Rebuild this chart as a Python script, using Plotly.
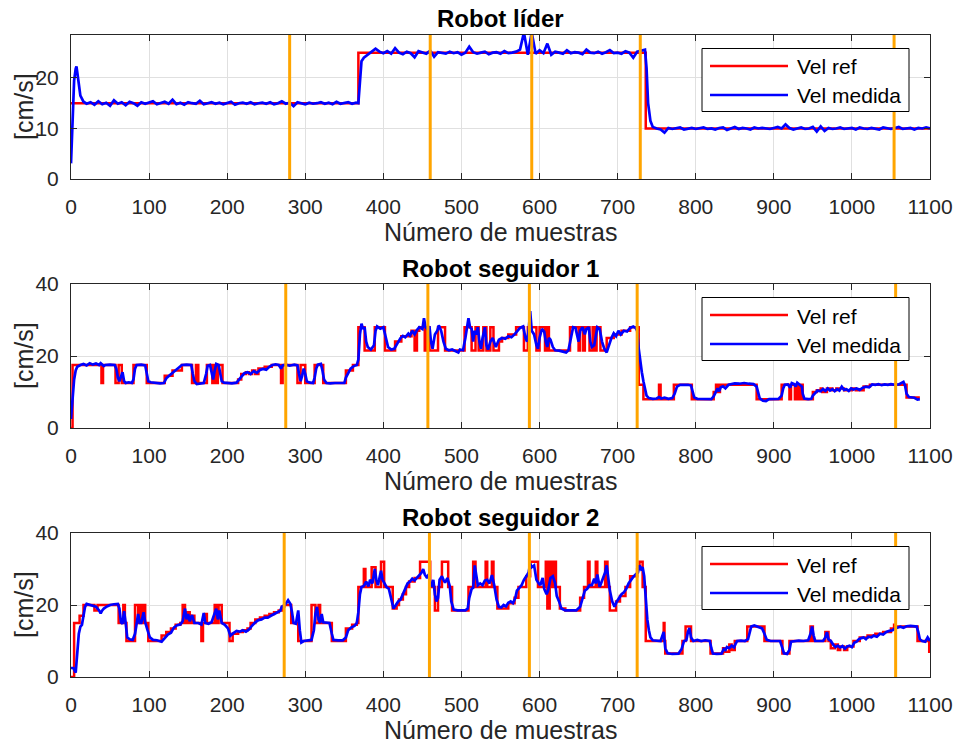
import plotly.graph_objects as go

# ---------------- data ----------------
x_ticks = [0, 100, 200, 300, 400, 500, 600, 700, 800, 900, 1000, 1100]
titles = ["Robot líder", "Robot seguidor 1", "Robot seguidor 2"]
x_label = "Número de muestras"
y_label = "[cm/s]"
legend_names = ["Vel ref", "Vel medida"]
y_ticks = [[0, 10, 20], [0, 20, 40], [0, 20, 40]]
y_max = [28.5, 40, 40]

# orange event markers (sample index)
events1 = [280, 460, 590, 729, 1054]
events2 = [275, 457, 587, 725, 1056]
events3 = [273, 459, 587, 725, 1056]

# ---- Robot líder ----
ref1 = [(0, 15), (368, 25), (736, 10), (1100, 10)]

meas1_x = ([0, 2, 4, 6, 7, 9, 12, 16] + list(range(20, 366, 5)) + [368, 370, 372, 375]
           + list(range(380, 736, 5)) + [737, 739, 742] + list(range(745, 1101, 5)))
meas1_y = ([3.1, 12, 19.5, 21.8, 22.3, 20, 16.5, 15.3]
           + [14.9, 15.2, 14.7, 15.4, 14.8, 15.1, 14.5, 15.6, 14.9, 15.2,
              14.6, 15.3, 15.0, 14.5, 15.2, 14.9, 15.1, 15.4, 14.8, 15.0,
              15.3, 14.9, 15.7, 14.8, 15.1, 14.7, 15.2, 15.0, 14.9, 15.5,
              14.8, 15.0, 15.2, 14.9, 15.1, 14.8, 15.0, 15.3, 14.7, 15.0,
              15.1, 14.9, 15.2, 14.8, 15.0, 15.1, 14.9, 15.2, 14.8, 15.0,
              15.4, 14.9, 15.1, 14.4, 15.2, 15.0, 14.8, 15.1, 14.9, 15.0,
              15.2, 14.9, 15.1, 14.8, 15.3, 14.9, 15.0, 15.2, 14.9, 15.1]
           + [15.0, 20, 23.3, 24.0]
           + [24.6, 25.1, 25.8, 25.2, 24.9, 25.3, 24.8, 25.9, 25.0, 24.7,
              25.2, 24.9, 24.1, 25.3, 25.0, 24.8, 25.4, 24.2, 25.1, 25.0,
              24.8, 25.2, 24.9, 25.1, 24.6, 25.0, 26.2, 25.1, 24.8, 25.0,
              25.2, 24.7, 25.0, 25.1, 24.8, 25.3, 24.9, 25.0, 25.2, 25.6,
              29.0, 24.6, 29.0, 24.8, 25.5, 24.9, 26.8, 24.6, 25.2, 25.0,
              24.8, 25.5, 24.9, 25.1, 25.0, 24.7, 25.6, 25.0, 24.9, 25.2,
              24.8, 25.1, 25.5, 24.9, 25.0, 24.8, 25.3, 25.0, 24.0, 25.2,
              25.4, 25.6]
           + [22, 15, 11.5]
           + [10.3, 10.0, 9.8, 9.2, 10.1, 9.9, 10.0, 10.2, 9.8, 10.0,
              10.1, 9.9, 10.0, 10.2, 9.9, 10.0, 9.8, 10.1, 10.2, 9.7,
              10.0, 10.3, 9.9, 10.1, 10.0, 9.8, 10.2, 10.0, 10.1, 10.0,
              9.9, 10.1, 10.3, 10.0, 10.8, 10.1, 9.8, 10.0, 10.2, 9.9,
              10.0, 10.3, 9.4, 10.4, 9.5, 10.1, 9.9, 10.0, 10.2, 9.9,
              10.0, 10.1, 9.8, 10.2, 10.0, 9.9, 10.1, 10.0, 9.8, 10.2,
              10.0, 9.9, 10.1, 10.3, 9.9, 10.0, 10.1, 9.8, 10.1, 10.0,
              10.2, 10.0])

# ---- Robot seguidor 1 ----
ref2 = [(0, 0), (2, 17.5), (39, 12.5), (41, 17.5), (57, 12.5), (61, 17.5), (65, 12.5), (80, 17.5),
        (97, 12.5), (120, 14.5), (130, 16), (142, 17.5), (155, 12.5), (160, 17.5), (163, 12.5),
        (174, 17.5), (181, 12.5), (184, 17.5), (187, 12.5), (188, 17.5), (194, 12.5), (214, 13.5),
        (218, 15), (224, 15.5), (228, 15), (232, 16), (236, 15), (240, 16.5), (248, 17), (257, 17.5),
        (269, 12.5), (271, 17.5), (290, 12.5), (294, 17.5), (300, 12.5), (312, 17.5), (323, 12.5),
        (352, 16), (361, 17.5), (368, 28), (376, 21.5), (389, 28), (402, 21.5), (415, 24), (423, 25.5),
        (436, 27), (440, 21.5), (443, 27), (446, 28), (453, 21.5), (456, 28), (459, 21.5), (470, 28),
        (479, 21.5), (504, 28), (513, 21.5), (518, 28), (522, 21.5), (528, 28), (532, 21.5), (537, 28),
        (541, 21.5), (548, 24), (552, 25), (560, 26), (570, 28), (580, 21.5), (585, 28), (596, 21.5),
        (600, 28), (607, 21.5), (609, 28), (612, 21.5), (639, 28), (650, 21.5), (652, 28), (656, 21.5),
        (658, 28), (664, 21.5), (668, 28), (670, 21.5), (673, 28), (678, 21.5), (686, 25), (695, 26),
        (705, 27), (716, 28), (727, 12), (733, 8), (753, 12), (755, 8), (772, 12), (795, 8), (823, 10),
        (826, 12), (828, 10), (831, 12), (878, 8), (910, 12), (920, 8), (922, 12), (927, 8), (929, 12),
        (932, 8), (934, 12), (937, 8), (950, 10), (955, 10.5), (960, 11), (962, 10), (968, 11),
        (975, 10.5), (980, 11), (990, 10.5), (1000, 11), (1005, 10.5), (1015, 11.5), (1023, 12),
        (1070, 8.5), (1087, 8.5)]

meas2 = [(0, 2.5), (2, 8), (4, 13.5), (6, 16), (8, 17), (12, 17.5), (16, 17.8), (20, 17.4), (24, 18),
         (28, 17.6), (32, 17.9), (36, 17.5), (38, 18), (42, 17.2), (44, 17.5), (50, 17.6), (56, 17.5),
         (58, 16.5), (60, 14), (62, 13), (64, 14.5), (66, 15.5), (68, 13), (70, 12.5), (74, 12.7),
         (78, 12.5), (80, 13.5), (82, 16.5), (84, 17.5), (90, 17.6), (95, 17.4), (97, 15), (99, 13),
         (102, 12.7), (108, 12.5), (114, 12.4), (119, 12.5), (122, 13.8), (126, 14.6), (130, 15.3),
         (134, 16), (138, 16.8), (142, 17.5), (148, 17.6), (154, 17.5), (156, 15), (158, 13),
         (161, 12.2), (166, 12.3), (170, 12.5), (173, 15), (175, 17.3), (178, 17.5), (180, 15),
         (182, 13.5), (184, 16), (186, 17.8), (189, 17.5), (191, 15), (193, 13), (196, 12.6),
         (200, 12.5), (206, 12.4), (212, 12.6), (215, 13.5), (218, 14.2), (222, 15.2), (226, 15.5),
         (230, 15), (234, 15.8), (238, 15.3), (242, 16.1), (246, 16.4), (250, 16.2), (254, 17),
         (258, 17.5), (262, 17.7), (266, 17.5), (269, 16.5), (271, 17.4), (275, 17.6), (280, 17.3),
         (286, 17.6), (290, 17.4), (292, 15), (294, 13), (296, 14.5), (298, 16.5), (300, 15),
         (302, 13), (306, 12.6), (310, 12.5), (312, 14), (314, 16.5), (316, 17.6), (320, 17.8),
         (322, 16), (324, 13.5), (327, 12.5), (332, 12.4), (338, 12.5), (344, 12.6), (350, 12.5),
         (352, 14), (355, 15.5), (358, 16.5), (362, 17.2), (366, 17.5), (368, 19), (370, 26),
         (372, 29), (374, 27.5), (376, 28), (378, 24), (380, 22.5), (384, 21.8), (388, 23), (390, 27),
         (392, 28.2), (396, 27.6), (400, 28), (403, 25), (406, 22.5), (410, 21.8), (414, 22),
         (418, 23.5), (422, 25), (425, 25.6), (428, 25.2), (432, 26.2), (434, 25.7), (437, 27),
         (440, 26), (443, 27.2), (446, 28), (450, 27.5), (452, 30.5), (454, 28), (456, 27.5),
         (459, 28.2), (461, 24), (463, 22), (466, 26), (469, 27), (471, 28.5), (474, 27), (477, 24),
         (480, 22), (484, 21.6), (488, 21.8), (492, 21.5), (496, 21), (498, 21.8), (502, 21.6),
         (505, 25), (507, 28), (509, 30.5), (511, 28), (513, 27.5), (515, 24), (517, 27), (519, 26),
         (521, 28), (523, 24), (525, 22), (527, 25), (530, 28), (532, 23), (534, 21.8), (537, 24),
         (540, 25), (544, 22.5), (548, 24.5), (552, 25), (556, 24.8), (560, 25.5), (564, 25.2),
         (568, 26), (572, 27), (575, 27.8), (579, 28.2), (582, 25), (584, 24), (586, 27), (588, 32.5),
         (590, 27), (593, 26), (596, 23), (598, 22), (600, 25), (603, 27.5), (606, 26.8), (608, 24),
         (610, 22.5), (612, 25), (614, 24.5), (617, 22.5), (620, 21.6), (625, 21.5), (630, 21.3),
         (634, 21), (637, 21.6), (640, 25), (643, 28), (646, 27.8), (648, 26), (650, 24), (652, 27),
         (655, 28), (658, 26), (660, 27.5), (663, 28), (665, 24), (667, 22.5), (670, 23), (672, 25.5),
         (674, 28), (677, 27.5), (680, 24), (683, 22), (686, 21), (689, 23), (692, 25), (695, 26.3),
         (698, 25.5), (701, 27), (704, 26), (708, 27), (712, 26.8), (716, 27.8), (720, 28.2),
         (723, 27.8), (725, 27), (727, 22), (729, 18), (731, 15.5), (733, 13), (735, 11), (737, 9),
         (740, 8.3), (745, 8.1), (750, 8.2), (753, 8.6), (756, 8.2), (760, 8.4), (765, 8.1), (770, 8.3),
         (773, 9.5), (776, 11.5), (780, 12), (785, 12.1), (790, 12), (794, 11.8), (796, 10), (798, 8.5),
         (802, 8.1), (808, 8), (814, 8.1), (820, 8), (823, 8.8), (826, 10.3), (828, 11), (830, 10.2),
         (832, 11.3), (835, 11.6), (838, 11), (842, 12), (846, 12.2), (850, 12.4), (856, 12.3),
         (862, 12.5), (868, 12.3), (874, 12.2), (878, 11.5), (880, 9.5), (882, 8.2), (886, 7.6),
         (890, 7.5), (894, 8), (900, 8), (906, 8.1), (910, 9), (912, 11), (914, 12), (918, 12.1),
         (921, 11.2), (923, 12.5), (926, 12.2), (928, 11.5), (930, 12.6), (933, 12), (936, 11.5),
         (937, 9.5), (939, 8.2), (944, 8), (948, 8.1), (950, 9), (953, 9.8), (956, 10.4), (960, 10.2),
         (963, 10.8), (966, 10.3), (969, 11), (972, 10.4), (975, 10.8), (978, 10.2), (981, 10.8),
         (984, 10.4), (987, 11.5), (990, 10.6), (993, 10.8), (996, 10.3), (999, 11), (1002, 10.7),
         (1006, 11), (1010, 10.6), (1014, 11.2), (1018, 11.5), (1022, 11.3), (1026, 12.1), (1030, 12),
         (1034, 12.2), (1038, 11.9), (1042, 12.1), (1046, 12), (1050, 12.2), (1055, 12), (1060, 12.1),
         (1064, 12.6), (1066, 12.8), (1068, 11.8), (1070, 9.5), (1073, 8.6), (1076, 8.5), (1080, 8.4),
         (1084, 7.9), (1087, 8)]

# ---- Robot seguidor 2 ----
ref3 = [(0, 0), (4, 15), (11, 17), (16, 20), (30, 18.5), (34, 20), (61, 15), (67, 20), (69, 15),
        (71, 10), (82, 20), (86, 15), (89, 20), (91, 15), (93, 20), (95, 15), (99, 10), (116, 11.5),
        (122, 12.5), (128, 13.5), (134, 14.5), (140, 15), (143, 20), (146, 15), (149, 18), (152, 15),
        (155, 17), (158, 15), (167, 10), (169, 15), (172, 17.5), (174, 15), (184, 20), (187, 15),
        (189, 20), (193, 15), (203, 10), (207, 12), (214, 12.5), (220, 13), (226, 13.5), (230, 15),
        (236, 16), (242, 16.5), (248, 17), (254, 17.5), (260, 18), (266, 18.5), (270, 19.5), (273, 20),
        (282, 15), (291, 10), (308, 20), (313, 15), (317, 20), (319, 15), (334, 10), (352, 13.5),
        (360, 14.5), (366, 15), (368, 25), (375, 30), (377, 25), (385, 30.5), (390, 25), (397, 32),
        (401, 25), (412, 19), (417, 20), (420, 21.5), (425, 23), (429, 25), (433, 26.5), (440, 27.5),
        (447, 32), (460, 25), (466, 18.5), (470, 25), (475, 32), (483, 25), (488, 18.5), (509, 25),
        (515, 32), (518, 25), (531, 32), (533, 25), (539, 32), (541, 25), (546, 19), (560, 20.5),
        (568, 22), (573, 25), (583, 28), (588, 32), (598, 25), (608, 32), (610, 19), (613, 32),
        (616, 25), (618, 32), (621, 25), (626, 19), (633, 18.5), (652, 22), (657, 25), (662, 32),
        (664, 25), (672, 32), (674, 25), (684, 32), (687, 25), (690, 18.5), (698, 21), (703, 22.5),
        (710, 25), (716, 28), (725, 30), (728, 32), (732, 25), (736, 10), (759, 15), (760, 10),
        (761, 6.5), (783, 10), (787, 14), (794, 10), (819, 6.5), (835, 8), (838, 7), (843, 9),
        (846, 7.5), (850, 10), (866, 14), (888, 10), (911, 6.5), (920, 10), (947, 14), (950, 10),
        (966, 12.5), (970, 10), (973, 8), (978, 9), (982, 7.5), (985, 8.5), (990, 7.5), (994, 8.5),
        (1002, 10), (1010, 11), (1020, 11.5), (1030, 12), (1040, 12.5), (1050, 13.5), (1054, 14.5),
        (1056, 14), (1084, 10), (1099, 7), (1100, 7)]

meas3 = [(0, 2.5), (3, 2.5), (6, 1.2), (8, 6), (10, 12), (12, 14), (14, 14.5), (16, 17), (18, 19.5),
         (20, 20.3), (24, 20), (28, 19.6), (32, 19.5), (36, 18.5), (38, 17.7), (40, 18.5), (42, 19),
         (46, 19.6), (50, 20), (55, 20.2), (60, 20.3), (62, 19), (64, 15.2), (66, 14.8), (68, 18.3),
         (70, 15), (72, 11), (75, 10.5), (79, 10.3), (82, 12), (84, 15), (86, 17.5), (88, 15), (90, 15),
         (93, 18), (95, 15.2), (98, 13), (101, 11), (105, 10.3), (110, 10.2), (116, 9.8), (120, 10.8),
         (124, 11.8), (128, 12.3), (132, 13.8), (136, 14.4), (140, 14.6), (143, 15.5), (146, 19),
         (148, 16), (150, 17.5), (152, 15.5), (155, 17.2), (158, 15), (163, 15), (167, 14.6),
         (170, 17.8), (172, 15), (176, 14.8), (180, 15.2), (184, 18), (186, 19), (188, 16), (190, 18.5),
         (193, 15), (197, 14.5), (201, 13.5), (204, 11.5), (208, 12.2), (212, 12.8), (216, 12.6),
         (220, 13), (224, 12.6), (228, 13.2), (232, 14.3), (236, 15.2), (240, 15.8), (244, 16),
         (248, 16.5), (252, 16.5), (256, 17), (260, 17.5), (264, 18), (268, 18.4), (270, 19.5),
         (274, 20), (278, 21.3), (281, 20.3), (283, 18), (285, 15), (288, 14.8), (291, 18.5), (293, 13),
         (295, 9.6), (298, 10), (303, 10.2), (308, 10.3), (311, 13), (313, 17.5), (315, 19.5),
         (317, 16), (319, 15), (321, 17.5), (323, 15.2), (327, 15), (331, 15), (334, 12), (336, 10.3),
         (342, 10.2), (348, 10.2), (352, 11), (355, 13), (359, 13.8), (363, 14.2), (366, 15), (368, 18),
         (370, 23), (372, 25), (375, 25.3), (378, 26.5), (381, 25.2), (383, 27), (386, 26), (389, 30),
         (391, 27), (393, 25.5), (395, 27.5), (397, 29.5), (399, 27), (401, 26), (404, 25), (407, 24.5),
         (410, 22), (413, 19), (416, 20), (419, 21), (422, 21.5), (425, 23), (428, 24.5), (431, 26),
         (434, 26.5), (437, 27.3), (440, 26.8), (443, 27.5), (446, 28), (449, 29), (451, 30),
         (453, 28.5), (456, 27.5), (458, 28.5), (460, 26.5), (462, 25), (464, 27), (466, 23), (468, 21),
         (470, 22), (472, 27), (475, 28), (477, 27), (479, 26.2), (482, 27.5), (485, 25.3), (487, 21),
         (490, 18.7), (495, 18.5), (500, 18.4), (505, 18.5), (508, 19), (510, 22), (513, 24.5),
         (515, 24.8), (517, 31), (519, 28), (521, 25.5), (524, 26), (527, 25.5), (530, 26.8), (533, 27),
         (536, 26), (539, 28.3), (542, 25.5), (545, 21.5), (548, 19.5), (551, 19.3), (554, 20),
         (557, 19.6), (560, 20.6), (563, 21), (566, 20.5), (569, 22), (571, 24), (574, 24.8),
         (577, 25.5), (580, 27), (583, 28), (586, 29), (588, 31.5), (590, 30.5), (593, 31), (596, 27),
         (599, 26), (601, 25.5), (604, 27.5), (606, 24.5), (609, 23), (611, 24), (614, 27.5), (617, 28),
         (620, 26), (622, 22.5), (625, 21), (628, 19), (633, 18.5), (640, 18.4), (647, 18.5),
         (652, 19.5), (655, 22), (658, 24), (661, 24.5), (664, 25.5), (667, 25.5), (670, 27.3),
         (672, 26), (674, 28.5), (677, 25), (679, 26), (682, 27.5), (684, 29), (686, 31), (688, 27),
         (690, 24), (693, 21), (696, 19.5), (699, 21), (702, 22), (705, 23), (708, 23.5), (711, 24.5),
         (714, 26), (717, 27), (720, 27.8), (723, 28.5), (726, 29), (728, 31), (730, 30), (732, 30.5),
         (734, 28), (736, 22), (738, 16), (740, 13), (742, 11), (745, 10.2), (750, 10), (755, 10),
         (759, 12.5), (761, 8), (764, 6.6), (770, 6.4), (778, 6.5), (782, 7.8), (785, 10), (788, 10.2),
         (790, 12.5), (792, 13.6), (794, 11), (797, 10), (802, 10.3), (807, 10), (812, 10.2), (818, 10),
         (820, 8), (822, 6.5), (827, 6.4), (833, 6.5), (836, 7.8), (838, 7.5), (840, 8.3), (843, 8),
         (846, 8.7), (849, 8.2), (851, 9.2), (853, 10), (858, 10.1), (863, 10), (867, 10.5),
         (869, 12.5), (871, 14), (875, 14.3), (880, 14), (885, 13.5), (888, 12), (891, 10.3), (896, 10),
         (902, 10.1), (908, 10), (911, 8), (913, 6.6), (917, 6.4), (920, 7.5), (922, 9.8), (926, 10),
         (932, 10.1), (938, 10), (944, 10.2), (947, 12), (949, 14), (951, 11.5), (953, 10), (958, 10),
         (963, 10), (966, 11), (968, 12.5), (970, 10.5), (973, 10), (976, 9), (979, 8.3), (982, 8.7),
         (985, 8.2), (988, 8.6), (991, 7.9), (994, 8.5), (997, 8.7), (1000, 8.3), (1003, 9.5),
         (1006, 9.8), (1009, 10.5), (1012, 10.8), (1015, 11), (1018, 10.5), (1021, 11.2), (1025, 11),
         (1028, 11.5), (1032, 11.2), (1036, 12), (1040, 11.8), (1044, 12.5), (1048, 12.8), (1052, 13),
         (1055, 13.5), (1058, 13.8), (1062, 14), (1066, 13.7), (1070, 14.1), (1075, 14.2), (1080, 14.1),
         (1083, 14), (1085, 12.5), (1087, 10.5), (1090, 10), (1094, 9.8), (1097, 11), (1100, 10)]

# ---------------- figure ----------------
W, H = 956, 743
FONT = "Liberation Sans, Arial, Helvetica, sans-serif"
PX_L, PX_R = 71, 930
PANELS = [(35, 179), (284, 428), (533, 677)]
RED, BLUE, ORANGE = "#FF0000", "#0000FF", "#FFA500"
AX = "#262626"


def px(xp):
    return xp / W


def py(yp):
    return 1 - yp / H


fig = go.Figure()

refs = [ref1, ref2, ref3]
meas = [(meas1_x, meas1_y), tuple(zip(*meas2)), tuple(zip(*meas3))]
events = [events1, events2, events3]

shapes = []
annotations = []
for i in range(3):
    sfx = "" if i == 0 else str(i + 1)
    rx, ry = zip(*refs[i])
    fig.add_trace(go.Scatter(x=list(rx), y=list(ry), mode="lines", line_shape="hv",
                             line=dict(color=RED, width=2.5), name=legend_names[0],
                             showlegend=False, xaxis="x" + sfx, yaxis="y" + sfx))
    mx, my = meas[i]
    fig.add_trace(go.Scatter(x=list(mx), y=list(my), mode="lines",
                             line=dict(color=BLUE, width=2.7), name=legend_names[1],
                             showlegend=False, xaxis="x" + sfx, yaxis="y" + sfx))
    top, bot = PANELS[i]
    common = dict(showline=True, linecolor=AX, linewidth=1, mirror="ticks", ticks="inside",
                  ticklen=6, tickcolor=AX, tickwidth=1, showgrid=True, gridcolor="#E0E0E0",
                  gridwidth=1, zeroline=False, automargin=False,
                  tickfont=dict(family=FONT, size=21, color=AX))
    fig.update_layout(**{
        "xaxis" + sfx: dict(domain=[px(PX_L), px(PX_R)], range=[0, 1100], tickvals=x_ticks,
                            anchor="y" + sfx, ticklabelstandoff=9, **common),
        "yaxis" + sfx: dict(domain=[py(bot), py(top)], range=[0, y_max[i]], tickvals=y_ticks[i],
                            anchor="x" + sfx, ticklabelstandoff=7, **common),
    })
    # event lines
    for ev in events[i]:
        shapes.append(dict(type="line", xref="x" + sfx, yref="y" + sfx + " domain", x0=ev, x1=ev,
                           y0=0, y1=1, line=dict(color=ORANGE, width=3), layer="above"))
    # legend box
    shapes.append(dict(type="rect", xref="paper", yref="paper", x0=px(702), x1=px(909),
                       y0=py(top + 13.5), y1=py(top + 76.5), fillcolor="white",
                       line=dict(color="#000000", width=1), layer="above"))
    for j, (col, dy) in enumerate([(RED, 31), (BLUE, 60)]):
        shapes.append(dict(type="line", xref="paper", yref="paper", x0=px(710), x1=px(788),
                           y0=py(top + dy), y1=py(top + dy), line=dict(color=col, width=2.5),
                           layer="above"))
        annotations.append(dict(text=legend_names[j], xref="paper", yref="paper", x=px(795),
                                y=py(top + dy + 1), xanchor="left", yanchor="middle",
                                showarrow=False, font=dict(family=FONT, size=21, color="#000000")))
    # title
    annotations.append(dict(text="<b>" + titles[i] + "</b>", xref="paper", yref="paper",
                            x=px((PX_L + PX_R) / 2), y=py(top - 16), xanchor="center",
                            yanchor="middle", showarrow=False,
                            font=dict(family=FONT, size=24, color="#000000")))
    # x label
    annotations.append(dict(text=x_label, xref="paper", yref="paper",
                            x=px((PX_L + PX_R) / 2), y=py(bot + 53), xanchor="center",
                            yanchor="middle", showarrow=False,
                            font=dict(family=FONT, size=25, color=AX)))
    # y label
    annotations.append(dict(text=y_label, xref="paper", yref="paper", x=px(24),
                            y=py((top + bot) / 2), xanchor="center", yanchor="middle",
                            textangle=-90, showarrow=False,
                            font=dict(family=FONT, size=25, color=AX)))

fig.update_layout(width=W, height=H, margin=dict(l=0, r=0, t=0, b=0, pad=0),
                  paper_bgcolor="white", plot_bgcolor="white", showlegend=False,
                  shapes=shapes, annotations=annotations)

fig.write_html("out.html")
